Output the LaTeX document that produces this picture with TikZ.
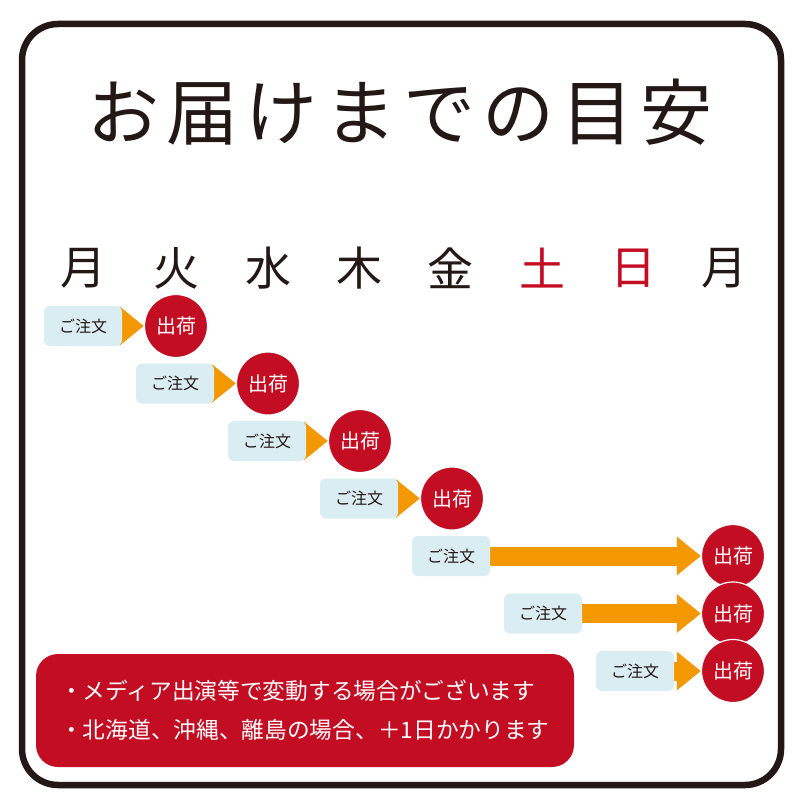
\documentclass[tikz,border=0pt]{standalone}
\usepackage{fontspec}
\newfontfamily\jp{Noto Sans CJK JP}
\usetikzlibrary{arrows.meta}
\definecolor{dred}{HTML}{C30D23}
\definecolor{dorange}{HTML}{F39800}
\definecolor{lblue}{HTML}{DAEDF3}
\definecolor{dark}{HTML}{231815}
\pgfdeclarelayer{back}
\pgfdeclarelayer{bg}
\pgfsetlayers{back,bg,main}
\newcommand{\tc}[1]{\makebox[79pt]{#1}}
\tikzset{
  orderbox/.style={fill=lblue, rounded corners=6pt, minimum width=78pt, minimum height=40pt, inner sep=0pt, text=dark, font=\jp\fontsize{16pt}{16pt}\selectfont},
  shipcirc/.style={circle, fill=dred, draw=white, line width=1.2pt, minimum size=63pt, inner sep=0pt, text=white, font=\jp\fontsize{20pt}{20pt}\selectfont},
  dayl/.style={text=dark, font=\jp\fontsize{46pt}{46pt}\selectfont, inner sep=0pt},
  redday/.style={dayl, text=dred},
  arr/.style={dorange, line width=19pt, -{Triangle[length=24pt, width=37pt]}},
  notetext/.style={text=white, anchor=west, inner sep=0pt, font=\jp\fontsize{22.7pt}{22.7pt}\selectfont}
}
\begin{document}
\begin{tikzpicture}[x=1pt, y=-1pt]
\useasboundingbox (0,0) rectangle (800,800);
\begin{pgfonlayer}{back}
\fill[white] (0,0) rectangle (800,800);
\end{pgfonlayer}
\draw[dark, line width=6.5pt, rounded corners=36pt] (22,24) rectangle (781,785);
\node[text=dark, inner sep=0pt, font=\jp\fontsize{72pt}{72pt}\selectfont] (title) at (400,112) {\tc{お}\tc{届}\tc{け}\tc{ま}\tc{で}\tc{の}\tc{目}\tc{安}};
\node[dayl] (d1) at (83,268) {月};
\node[dayl] (d2) at (176,268) {火};
\node[dayl] (d3) at (268,268) {水};
\node[dayl] (d4) at (359,268) {木};
\node[dayl] (d5) at (450,268) {金};
\node[redday] (d6) at (542,268) {土};
\node[redday] (d7) at (633,268) {日};
\node[dayl] (d8) at (724,268) {月};
\foreach \i/\cx in {0/176,1/268,2/360,3/452,4/733,5/733,6/733}{
  \node[orderbox] (b\i) at ({83+92*\i},{326+57.5*\i}) {ご注文};
  \node[shipcirc] (c\i) at (\cx,{326+57.5*\i}) {出荷};
  \begin{pgfonlayer}{bg}
    \draw[arr] (b\i.east) -- (c\i.west);
  \end{pgfonlayer}
}
\fill[dred, rounded corners=22pt] (36,654) rectangle (574,767);
\node[notetext] (n1) at (60,691) {・メディア出演等で変動する場合がございます};
\node[notetext] (n2) at (60,730) {・北海道、沖縄、離島の場合、＋1日かかります};
\end{tikzpicture}
\end{document}
